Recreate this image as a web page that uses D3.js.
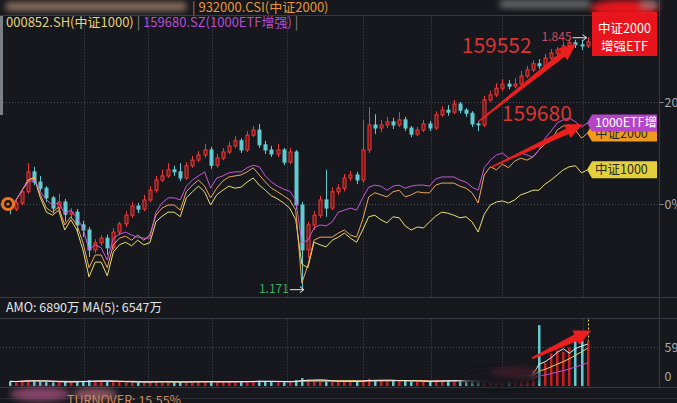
<!DOCTYPE html>
<html><head><meta charset="utf-8">
<script src="https://cdn.jsdelivr.net/npm/d3@7"></script>
<style>
html,body{margin:0;padding:0;background:#16181d;overflow:hidden}
svg{display:block}
text{font-family:"Noto Sans CJK SC","Noto Sans",sans-serif}
</style></head><body>
<svg id="c" width="677" height="403"></svg>
<script>
// ---- data: 159552 (中证2000增强ETF) candles, % change vs first day ----
const firstOpen = -0.6;
const closes = [-1.0,0.2,2.4,6.3,4.3,3.1,1.2,-0.8,0.4,-2.0,
 -1.6,-4.1,-5.1,-9.0,-7.6,-6.7,-8.6,-5.5,-3.9,-2.2,
 -0.4,-1.0,0.8,2.7,4.7,5.5,6.7,6.3,5.1,7.5,
 8.6,9.6,10.6,7.6,9.0,10.2,11.4,12.4,10.6,13.5,
 14.5,11.6,10.6,9.8,10.6,8.2,10.2,-0.2,-9.0,-4.1,
 -2.2,0.8,-0.8,2.4,3.1,5.1,5.7,4.7,10.6,15.5,
 14.9,15.5,16.1,15.5,16.5,14.9,13.7,14.5,15.7,14.9,
 17.5,18.4,18.0,19.6,18.4,17.8,15.7,15.5,20.4,21.4,
 22.7,23.5,23.1,23.5,25.1,26.3,27.5,27.1,28.6,29.6,
 30.2,31.0,31.6,31.2,31.0,31.8];
const highs = [0.2,0.8,3.0,8.0,7.3,5.5,3.5,1.6,2.0,1.0,
 -0.8,-1.0,-3.3,-4.5,-6.9,-6.1,-6.0,-4.7,-3.5,-1.4,
 0.4,0.2,1.8,3.5,5.5,6.7,8.0,7.5,8.0,8.2,
 9.4,10.4,11.8,11.2,9.8,11.0,12.2,13.3,12.9,14.3,
 15.3,15.7,12.4,11.4,11.8,11.0,11.0,10.6,0.4,-3.5,
 -1.4,1.6,6.7,3.3,3.9,5.9,6.5,6.3,16.5,19.0,
 17.6,16.5,17.1,16.9,18.0,17.1,15.3,15.1,16.5,16.3,
 18.2,19.2,19.4,20.4,20.0,18.8,18.2,16.1,21.2,22.2,
 23.7,24.5,24.3,24.7,26.1,27.1,28.2,28.4,29.4,30.4,
 30.8,31.8,32.4,32.2,32.2,32.7];
const lows = [-2.0,-1.4,-0.2,2.0,3.7,2.5,0.4,-1.8,-1.2,-3.5,
 -3.0,-5.5,-6.5,-10.4,-9.6,-8.2,-10.0,-9.0,-6.1,-4.5,
 -2.7,-1.8,-1.4,0.4,2.2,4.3,5.1,5.5,4.5,4.7,
 7.1,8.2,9.0,6.9,7.1,8.6,9.8,11.0,10.0,10.2,
 13.1,11.0,9.8,9.2,9.2,7.6,7.8,-1.0,-16.7,-10.6,
 -5.1,-2.7,-2.5,-1.2,1.8,2.5,4.5,3.9,4.1,10.0,
 13.7,14.1,14.9,14.7,15.1,14.3,13.1,13.3,14.1,14.3,
 14.5,17.1,17.3,17.6,17.8,17.1,15.1,14.3,15.1,20.0,
 21.0,22.2,22.5,22.7,23.1,24.7,25.9,26.5,26.7,28.2,
 29.2,29.8,30.6,30.6,30.2,30.6];
// comparison lines (% change)
const etf1000 = [-0.8,0.8,2.7,4.3,4.7,2.4,0.8,-0.2,0.2,-1.8,
 -1.2,-2.7,-4.7,-9.0,-8.0,-8.6,-11.0,-6.7,-5.9,-5.5,
 -6.1,-6.5,-6.7,-6.7,-1.6,0.2,1.2,1.2,0.8,3.5,
 4.7,5.5,6.3,3.1,5.1,5.5,6.1,6.3,6.3,7.1,
 7.6,7.3,5.5,4.3,3.5,2.9,2.5,0.8,-7.6,-7.1,
 -4.7,-4.1,-4.3,-3.5,-1.6,-1.2,-0.8,-1.2,1.2,3.3,
 3.7,3.5,2.7,3.5,3.7,3.1,3.5,3.7,3.7,3.5,
 4.9,5.3,5.3,5.3,4.7,4.3,3.3,2.7,7.1,8.6,
 9.6,10.0,9.0,9.2,10.0,9.6,9.2,10.6,12.9,14.3,
 15.9,16.5,16.9,16.1,15.1,15.9];
const csi2000 = [-0.8,0.8,2.7,4.7,5.3,1.8,-0.8,-1.6,-0.6,-4.1,
 -2.5,-4.1,-7.6,-12.5,-10.0,-10.0,-12.5,-8.0,-6.7,-6.3,
 -7.1,-6.1,-7.1,-6.1,-2.2,-0.8,-0.2,-0.2,-1.2,2.4,
 3.7,4.7,3.5,1.2,3.1,4.5,5.3,5.5,5.7,6.3,
 7.1,5.7,4.3,3.1,2.4,1.6,0.8,-1.2,-15.5,-12.0,
 -7.1,-6.5,-6.5,-6.5,-5.7,-5.1,-6.1,-6.5,-3.1,1.4,
 2.2,1.8,1.4,2.4,2.7,1.4,1.8,2.4,2.2,2.2,
 3.7,4.1,4.1,4.1,3.5,3.1,2.2,0.2,5.7,7.3,
 6.7,7.8,7.1,8.4,9.0,8.6,9.2,10.6,11.8,12.4,
 14.5,15.3,15.5,14.5,12.9,13.9];
const csi1000 = [-0.8,0.8,2.7,4.7,5.1,1.2,-1.6,-2.2,-1.2,-5.1,
 -3.1,-5.1,-9.0,-14.3,-11.4,-11.4,-14.1,-9.4,-8.0,-7.5,
 -8.2,-7.1,-8.0,-7.6,-3.5,-2.4,-1.6,-1.6,-2.5,1.2,
 2.4,3.5,2.4,-0.2,1.8,2.7,3.5,3.1,3.3,4.3,
 5.1,3.7,2.7,1.6,1.0,0.2,-0.8,-3.1,-11.8,-12.5,
 -7.5,-8.0,-8.4,-7.1,-6.5,-5.7,-6.7,-7.5,-5.1,-2.5,
 -2.2,-3.1,-3.7,-2.5,-2.7,-4.3,-5.1,-4.5,-4.7,-3.5,
 -2.4,-1.6,-1.8,-2.2,-2.7,-2.5,-3.5,-5.5,-2.0,-0.2,
 0.4,0.6,0.2,0.8,1.8,2.2,2.7,2.7,3.9,4.7,
 5.7,6.7,7.3,7.5,6.1,6.7];
// turnover amount (万)
const volumes = [700,650,800,900,850,700,600,550,600,650,
 600,700,750,900,800,700,750,650,600,550,
 600,550,600,650,700,650,600,550,600,650,
 700,650,600,700,650,600,650,700,650,700,
 750,800,700,650,600,650,600,900,1200,1000,
 800,750,700,650,700,750,700,650,900,1100,
 900,800,750,800,850,750,700,650,700,650,
 900,850,800,850,750,700,800,900,1100,1000,
 1300,1500,1400,1600,1800,1400,2400,9200,3500,4900,
 5400,5200,5800,7000,6800,6890];
const gridIdx = [12.2,22.7,33.2,45.6,58.1,69.2,80.9,94.2];
const yTicks = [20,0];
const volTicks = [5900,0];
const volTickLabels = ["5900","0"];
const legendRow2 = [{t:"000852.SH(中证1000)",c:"#e4d27c"},{t:" | ",c:"#8a8a8a"},{t:"159680.SZ(1000ETF增强)",c:"#b84cd4"},{t:" |",c:"#8a8a8a"}];
const seriesLabels = [
  {name:"中证2000", data:csi2000, color:"#f2a65a", box:"#f09a1e", txt:"#2a2a2a"},
  {name:"1000ETF增强", data:etf1000, color:"#c45ad8", box:"#b544c8", txt:"#ffffff"},
  {name:"中证1000", data:csi1000, color:"#ece072", box:"#e4cf3c", txt:"#2a2a2a"}
];
// annotations (index, value)
const arrowMain1 = {from:[77.0,16.1], to:[93.1,31.4]};
const arrowMain2 = {from:[79.3,7.3], to:[94.2,15.7]};
const arrowVol = {from:[85.9,4200], to:[95.6,8400]};
const note1 = {text:"159552", at:[74.3,29.6]};
const note2 = {text:"159680", at:[80.9,16.3]};

// ---- drawing ----
const W=677, H=403, RIGHT=659.5, TOP=15.5, BOT=297.5, VTOP=318.5, VBOT=387.5;
const svg = d3.select("#c");
const defs = svg.append("defs");
defs.append("filter").attr("id","blur").attr("x","-50%").attr("y","-50%").attr("width","200%").attr("height","200%")
  .append("feGaussianBlur").attr("stdDeviation",3);
defs.append("clipPath").attr("id","lblclip").append("rect").attr("x",590).attr("y",0).attr("width",67).attr("height",H);

svg.append("rect").attr("width",W).attr("height",H).attr("fill","#16181d");

const x = d3.scaleLinear().domain([0, closes.length-1]).range([10, 587.6]);
const y = d3.scaleLinear().domain([0,20]).range([204,102]);
const yv = d3.scaleLinear().domain([0,5900]).range([386,347]);

// frame lines
const frame = svg.append("g").attr("stroke","#373a42").attr("stroke-width",1);
frame.append("line").attr("x1",0).attr("x2",RIGHT).attr("y1",TOP).attr("y2",TOP);
[BOT,VTOP,VBOT].forEach(v=>frame.append("line").attr("x1",0).attr("x2",W).attr("y1",v).attr("y2",v));
frame.append("line").attr("x1",0).attr("x2",W).attr("y1",398.5).attr("y2",398.5).attr("stroke","#2a2d33");
frame.append("line").attr("x1",RIGHT).attr("x2",RIGHT).attr("y1",0).attr("y2",VBOT);

// grid
const grid = svg.append("g").attr("stroke","#4a4e57").attr("stroke-dasharray","1,2").attr("stroke-width",1);
gridIdx.forEach(g=>{
  const gx = Math.round(x(g))+0.5;
  grid.append("line").attr("x1",gx).attr("x2",gx).attr("y1",TOP+1).attr("y2",BOT-1);
  grid.append("line").attr("x1",gx).attr("x2",gx).attr("y1",VTOP+1).attr("y2",VBOT-1);
});
yTicks.forEach(t=>grid.append("line").attr("x1",0).attr("x2",RIGHT).attr("y1",Math.round(y(t))+0.5).attr("y2",Math.round(y(t))+0.5));
grid.append("line").attr("x1",0).attr("x2",RIGHT).attr("y1",Math.round(yv(5900))+0.5).attr("y2",Math.round(yv(5900))+0.5);

// right axes
const ax = svg.append("g").attr("transform",`translate(${RIGHT},0)`)
  .call(d3.axisRight(y).tickValues(yTicks).tickSize(4).tickFormat(d=>d+"%"));
ax.select(".domain").remove();
ax.selectAll("line").attr("stroke","#8a8d94");
ax.selectAll("text").attr("fill","#a8aab0").attr("font-size",12.5).attr("x",5).attr("font-family","Liberation Sans, sans-serif");
const avx = svg.append("g").attr("transform",`translate(${RIGHT},0)`)
  .call(d3.axisRight(yv).tickValues(volTicks).tickSize(0).tickFormat((d,i)=>volTickLabels[i]));
avx.select(".domain").remove();
avx.selectAll("text").attr("fill","#a8aab0").attr("font-size",12.5).attr("x",5).attr("font-family","Liberation Sans, sans-serif")
  .attr("dy",(d)=> d===0 ? "-0.45em" : "0.32em");

// left scrollbar
svg.append("rect").attr("x",0).attr("y",16).attr("width",3).attr("height",99).attr("fill","#7c7f86");

// candles
const opens = closes.map((c,i)=> i===0 ? firstOpen : closes[i-1]);
const RED="#f03a3a", CYAN="#62cbd2";
const cg = svg.append("g");
closes.forEach((c,i)=>{
  const o = opens[i], up = c >= o, col = up?RED:CYAN;
  const cx = Math.round(x(i))+0.5;
  cg.append("line").attr("x1",cx).attr("x2",cx).attr("y1",y(highs[i])).attr("y2",y(lows[i])).attr("stroke",col).attr("stroke-width",1);
  const top = y(Math.max(o,c)), h = Math.max(1, Math.abs(y(o)-y(c)));
  cg.append("rect").attr("x",cx-1.5).attr("y",top).attr("width",3).attr("height",h)
    .attr("fill", up ? "#6e1414" : CYAN).attr("stroke",col).attr("stroke-width",1);
});

// comparison lines
const line = d3.line().x((d,i)=>x(i)).y(d=>y(d));
[seriesLabels[2],seriesLabels[0],seriesLabels[1]].forEach(s=>{
  svg.append("path").attr("d",line(s.data)).attr("fill","none").attr("stroke",s.color).attr("stroke-width",1);
});

// start marker
svg.append("circle").attr("cx",x(0)-2).attr("cy",y(0)).attr("r",5.5).attr("fill","#1a1a1a").attr("stroke","#f0731f").attr("stroke-width",3.2);
svg.append("circle").attr("cx",x(0)-2).attr("cy",y(0)).attr("r",1.6).attr("fill","#f0731f");

// high / low labels
const iHi = d3.maxIndex(highs), iLo = d3.minIndex(lows);
function valLabel(i, v, txt, color){
  const cx = x(i), cy = y(v);
  svg.append("text").attr("x",cx-16).attr("y",cy+4).attr("text-anchor","end").attr("fill",color).attr("font-size",12)
    .attr("font-family","Liberation Sans, sans-serif").text(txt);
  svg.append("line").attr("x1",cx-15).attr("x2",cx-1).attr("y1",cy+0.5).attr("y2",cy+0.5).attr("stroke","#e8e8e8").attr("stroke-width",1);
  svg.append("path").attr("d",`M${cx-5},${cy-2.5}L${cx-1},${cy+0.5}L${cx-5},${cy+3.5}`).attr("fill","none").attr("stroke","#e8e8e8");
}
valLabel(iHi, highs[iHi], "1.845", "#c94a66");
valLabel(iLo+0.5, lows[iLo], "1.171", "#3fae63");

// volume bars
const vg = svg.append("g");
volumes.forEach((v,i)=>{
  const up = closes[i] >= opens[i];
  const cx = Math.round(x(i));
  vg.append("rect").attr("x",cx-1).attr("y",yv(v)).attr("width",2.5).attr("height",yv(0)-yv(v))
    .attr("fill", up ? "#c82020" : CYAN);
});
function ma(arr,n){ return arr.map((d,i)=> d3.mean(arr.slice(Math.max(0,i-n+1), i+1))); }
const vline = d3.line().x((d,i)=>x(i)).y(d=>yv(d));
[[20,"#c050d0"],[10,"#e8d060"],[5,"#eeeeee"]].forEach(([n,c])=>{
  svg.append("path").attr("d",vline(ma(volumes,n))).attr("fill","none").attr("stroke",c).attr("stroke-width",1);
});
svg.append("line").attr("x1",Math.round(x(volumes.length-1))+0.5).attr("x2",Math.round(x(volumes.length-1))+0.5)
  .attr("y1",VTOP+1).attr("y2",yv(volumes[volumes.length-1])).attr("stroke","#e8d060").attr("stroke-dasharray","2,2");

// smudge in volume panel
svg.append("ellipse").attr("cx",500).attr("cy",378).attr("rx",40).attr("ry",9).attr("fill","#16181d").attr("filter","url(#blur)");
svg.append("ellipse").attr("cx",515).attr("cy",372).attr("rx",25).attr("ry",5).attr("fill","#5a2030").attr("opacity",0.6).attr("filter","url(#blur)");

// red arrows
function bigArrow(x1,y1,x2,y2,w1,w2,hw,hl){
  const dx=x2-x1, dy=y2-y1, L=Math.hypot(dx,dy), ux=dx/L, uy=dy/L, nx=-uy, ny=ux;
  const bx=x2-ux*hl, by=y2-uy*hl;
  const pts=[[x1+nx*w1/2,y1+ny*w1/2],[bx+nx*w2/2,by+ny*w2/2],[bx+nx*hw/2,by+ny*hw/2],[x2,y2],
             [bx-nx*hw/2,by-ny*hw/2],[bx-nx*w2/2,by-ny*w2/2],[x1-nx*w1/2,y1-ny*w1/2]];
  svg.append("polygon").attr("points",pts.map(p=>p.join(",")).join(" ")).attr("fill","#ec1e1e");
}
bigArrow(x(arrowMain1.from[0]),y(arrowMain1.from[1]),x(arrowMain1.to[0]),y(arrowMain1.to[1]),1.5,6,15,17);
bigArrow(x(arrowMain2.from[0]),y(arrowMain2.from[1]),x(arrowMain2.to[0]),y(arrowMain2.to[1]),1.5,6,15,17);
bigArrow(x(arrowVol.from[0]),yv(arrowVol.from[1]),x(arrowVol.to[0]),yv(arrowVol.to[1]),2,7,16,17);

// big red notes
[note1,note2].forEach(n=>{
  svg.append("text").attr("x",x(n.at[0])).attr("y",y(n.at[1])).attr("fill","#d83434").attr("font-size",21)
    .attr("font-family","Liberation Sans, sans-serif").text(n.text);
});

// right-side series labels
function tagLabel(s){
  const v = s.data[s.data.length-1], cy = y(v), h = 17, x0 = 592, x1 = 657, tip = 587;
  const g = svg.append("g");
  g.append("path").attr("d",`M${tip},${cy}L${x0},${cy-h/2}H${x1}V${cy+h/2}H${x0}Z`).attr("fill",s.box);
  g.append("text").attr("x",x0+3).attr("y",cy+4.5).attr("fill",s.txt).attr("font-size",12.5).attr("clip-path","url(#lblclip)").text(s.name);
}
tagLabel(seriesLabels[0]); tagLabel(seriesLabels[1]); tagLabel(seriesLabels[2]);

// top-right red tag
svg.append("ellipse").attr("cx",624).attr("cy",8).attr("rx",34).attr("ry",8).attr("fill","#e3161c").attr("filter","url(#blur)");
svg.append("rect").attr("x",592).attr("y",12).attr("width",65).attr("height",44).attr("fill","#e8161c");
svg.append("text").attr("x",624.5).attr("y",33).attr("text-anchor","middle").attr("fill","#fff").attr("font-size",12.5).text("中证2000");
svg.append("text").attr("x",624.5).attr("y",51).attr("text-anchor","middle").attr("fill","#fff").attr("font-size",12.5).text("增强ETF");

// blurred header areas
svg.append("rect").attr("x",6).attr("y",2).attr("width",180).attr("height",9).attr("fill","#b08a70").attr("opacity",0.75).attr("filter","url(#blur)");
svg.append("rect").attr("x",500).attr("y",0).attr("width",90).attr("height",8).attr("fill","#8c8c8c").attr("opacity",0.7).attr("filter","url(#blur)");
svg.append("rect").attr("x",640).attr("y",0).attr("width",18).attr("height",9).attr("fill","#8c8c8c").attr("opacity",0.7).attr("filter","url(#blur)");

// legend
svg.append("text").attr("x",192).attr("y",12).attr("font-size",13).attr("fill","#e8963c")
  .selectAll("tspan").data([{t:"| ",c:"#8a8a8a"},{t:"932000.CSI(中证2000)",c:"#e8963c"}]).join("tspan").attr("fill",d=>d.c).text(d=>d.t);
svg.append("text").attr("x",6).attr("y",27).attr("font-size",13)
  .selectAll("tspan").data(legendRow2).join("tspan").attr("fill",d=>d.c).text(d=>d.t);

// volume header
svg.append("text").attr("x",6).attr("y",312).attr("font-size",12.5).attr("fill","#e4e4e4").text("AMO: 6890万  MA(5): 6547万");

// bottom blurred area + turnover
svg.append("ellipse").attr("cx",40).attr("cy",394).attr("rx",30).attr("ry",7).attr("fill","#a0507a").attr("opacity",0.8).attr("filter","url(#blur)");
svg.append("ellipse").attr("cx",95).attr("cy",394).attr("rx",22).attr("ry",6).attr("fill","#b86a7c").attr("opacity",0.7).attr("filter","url(#blur)");
svg.append("text").attr("x",67).attr("y",405).attr("font-size",12.5).attr("fill","#d08a5a").text("TURNOVER: 15.55%");
</script>
</body></html>
